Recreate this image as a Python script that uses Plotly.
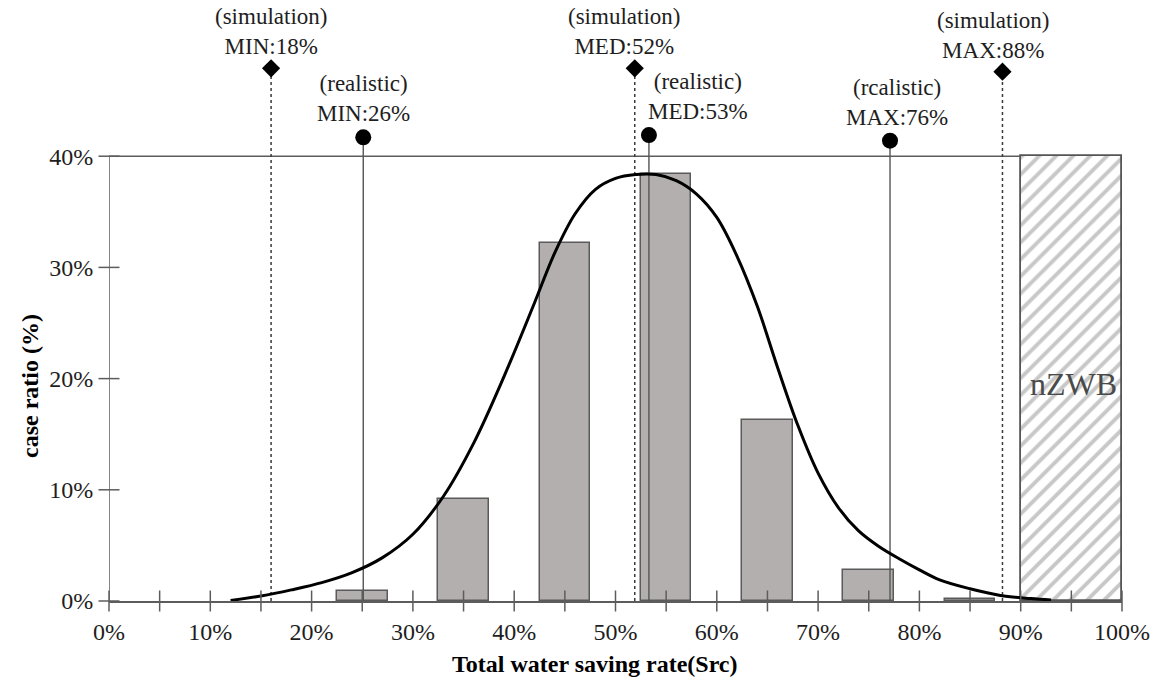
import plotly.graph_objects as go

# ---------------- data ----------------
bin_centers = [25, 35, 45, 55, 65, 75, 85]          # % total water saving rate
case_ratio = [0.9, 9.2, 32.2, 38.4, 16.3, 2.8, 0.15]  # % of cases

nzwb_center = [95]
nzwb_height = [40]

curve_x = [12, 15, 18, 21, 24, 27, 30, 33, 36, 39, 42, 44, 46, 48, 50, 52, 54,
           56, 58, 60, 62, 64, 66, 68, 70, 72, 74, 76, 78, 80, 82, 85, 88, 91, 93]
curve_y = [0.05, 0.45, 1.0, 1.65, 2.55, 3.9, 6.0, 9.4, 14.2, 20.2, 26.8, 31.3, 34.8,
           37.0, 38.0, 38.35, 38.35, 37.8, 36.6, 34.5, 31.0, 26.5, 21.0, 15.8, 11.5,
           8.4, 6.3, 4.9, 3.8, 2.8, 1.9, 1.1, 0.5, 0.22, 0.1]

sim_x = [16.0, 51.9, 88.2]
sim_text = ["(simulation)<br>MIN:18%", "(simulation)<br>MED:52%", "(simulation)<br>MAX:88%"]
real_x = [25.1, 53.3, 77.1]
real_text = ["(realistic)<br>MIN:26%", "(realistic)<br>MED:53%", "(rcalistic)<br>MAX:76%"]

x_ticks = list(range(0, 101, 5))
x_tick_labels = [f"{v}%" if v % 10 == 0 else "" for v in x_ticks]
y_ticks = [0, 10, 20, 30, 40]
y_tick_labels = [f"{v}%" for v in y_ticks]

# ---------------- layout constants ----------------
W, H = 1163, 682
ML, MR, MT, MB = 109, 41, 0, 81
PX_PER_PCT = 11.12
Y_TOP = (H - MB - MT) / PX_PER_PCT
SIM_MARK_Y = [47.9, 47.9, 47.6]
REAL_MARK_Y = [41.7, 41.9, 41.4]
SIM_XSHIFT = [0, -11, -9]
REAL_XSHIFT = [0, 49, 7]
AX = "#5c5c5c"
SERIF = "Liberation Serif, Times New Roman, serif"
TXT = "#1e1e1e"

fig = go.Figure()

# bars
fig.add_trace(go.Bar(
    x=bin_centers, y=case_ratio, width=5,
    marker=dict(color="#b4afaf", line=dict(color="#5a5a5a", width=1.5)),
    showlegend=False, hoverinfo="skip"))

# nZWB hatched bar
fig.add_trace(go.Bar(
    x=nzwb_center, y=nzwb_height, width=10,
    marker=dict(color="white", line=dict(color="#555555", width=1.8),
                pattern=dict(shape="/", fgcolor="#8f8f8f", bgcolor="white",
                             size=12, solidity=0.32)),
    showlegend=False, hoverinfo="skip"))

# simulation dotted lines
for i, xv in enumerate(sim_x):
    fig.add_trace(go.Scatter(
        x=[xv, xv], y=[0, SIM_MARK_Y[i]], mode="lines",
        line=dict(color="#3a3a3a", width=1.5, dash="3px,3px"),
        showlegend=False, hoverinfo="skip", cliponaxis=False))
# realistic solid lines
for i, xv in enumerate(real_x):
    fig.add_trace(go.Scatter(
        x=[xv, xv], y=[0, REAL_MARK_Y[i]], mode="lines",
        line=dict(color="#555", width=1.4),
        showlegend=False, hoverinfo="skip", cliponaxis=False))

# fitted curve
fig.add_trace(go.Scatter(
    x=curve_x, y=curve_y, mode="lines",
    line=dict(color="black", width=3, shape="spline", smoothing=1.0),
    showlegend=False, hoverinfo="skip"))

# markers
fig.add_trace(go.Scatter(
    x=sim_x, y=SIM_MARK_Y, mode="markers",
    marker=dict(symbol="diamond", size=14, color="black"),
    showlegend=False, hoverinfo="skip", cliponaxis=False))
fig.add_trace(go.Scatter(
    x=real_x, y=REAL_MARK_Y, mode="markers",
    marker=dict(symbol="circle", size=16, color="black"),
    showlegend=False, hoverinfo="skip", cliponaxis=False))

# crossing tick marks
fig.add_trace(go.Scatter(
    x=x_ticks, y=[0] * len(x_ticks), mode="markers",
    marker=dict(symbol="line-ns", size=15, line=dict(color=AX, width=1.5)),
    showlegend=False, hoverinfo="skip", cliponaxis=False))
fig.add_trace(go.Scatter(
    x=[0] * len(y_ticks), y=y_ticks, mode="markers",
    marker=dict(symbol="line-ew", size=15, line=dict(color=AX, width=1.5)),
    showlegend=False, hoverinfo="skip", cliponaxis=False))

# axis frame pieces
fig.add_shape(type="line", x0=0, x1=0, y0=0, y1=40, xref="x", yref="y",
              line=dict(color=AX, width=1.5), layer="above")
fig.add_shape(type="line", x0=0, x1=100, y0=40, y1=40, xref="x", yref="y",
              line=dict(color=AX, width=1.5), layer="below")

# annotations
for i, xv in enumerate(sim_x):
    fig.add_annotation(x=xv, y=SIM_MARK_Y[i], text=sim_text[i], showarrow=False,
                       xanchor="center", yanchor="bottom", yshift=7, xshift=SIM_XSHIFT[i],
                       font=dict(family=SERIF, size=23, color=TXT))
for i, xv in enumerate(real_x):
    fig.add_annotation(x=xv, y=REAL_MARK_Y[i], text=real_text[i], showarrow=False,
                       xanchor="center", yanchor="bottom", yshift=9, xshift=REAL_XSHIFT[i],
                       font=dict(family=SERIF, size=23, color=TXT))
fig.add_annotation(x=95.2, y=19.5, text="nZWB", showarrow=False,
                   font=dict(family=SERIF, size=32, color="#4a4a4a"))

# axis titles
fig.add_annotation(xref="paper", yref="paper", x=(595 - ML) / (W - ML - MR),
                   y=-(664 - (H - MB)) / (H - MB - MT), xanchor="center", yanchor="middle",
                   text="<b>Total water saving rate(Src)</b>", showarrow=False,
                   font=dict(family=SERIF, size=24, color="black"))
fig.add_annotation(xref="paper", yref="paper", x=-(ML - 30) / (W - ML - MR),
                   y=((H - MB) - 386) / (H - MB - MT), xanchor="center", yanchor="middle",
                   text="<b>case ratio (%)</b>", textangle=-90, showarrow=False,
                   font=dict(family=SERIF, size=24, color="black"))

fig.update_layout(
    width=W, height=H,
    margin=dict(l=ML, r=MR, t=MT, b=MB),
    paper_bgcolor="white", plot_bgcolor="white",
    barmode="overlay", bargap=0,
    showlegend=False,
    font=dict(family=SERIF, size=24, color=TXT),
    xaxis=dict(range=[0, 100], tickvals=x_ticks, ticktext=x_tick_labels,
               showgrid=False, zeroline=False, showline=True, linecolor=AX, linewidth=1.5,
               ticks="outside", ticklen=8, tickcolor="rgba(0,0,0,0)",
               tickfont=dict(family=SERIF, size=24, color=TXT)),
    yaxis=dict(range=[0, Y_TOP], tickvals=y_ticks, ticktext=y_tick_labels,
               showgrid=False, zeroline=False, showline=False,
               ticks="outside", ticklen=10, tickcolor="rgba(0,0,0,0)",
               tickfont=dict(family=SERIF, size=24, color=TXT)),
)

fig.write_html("out.html")
